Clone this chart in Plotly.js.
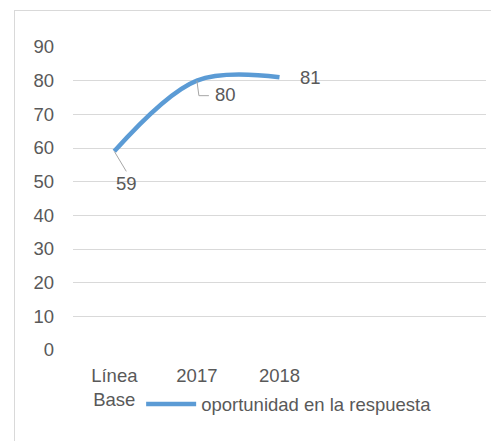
<!DOCTYPE html>
<html><head><meta charset="utf-8">
<script src="https://cdn.plot.ly/plotly-3.0.1.min.js"></script>
<style>
html,body{margin:0;padding:0;background:#fff;}
#frame{position:absolute;left:14px;top:10px;width:490px;height:440px;border-left:1px solid #d9d9d9;border-top:1px solid #d9d9d9;}
#chart{position:absolute;left:0;top:0;width:491px;height:441px;}
</style></head>
<body>
<div id="frame"></div>
<div id="chart"></div>
<script>
const categories = ['Línea<br>Base', '2017', '2018'];
const values = [59, 80, 81];
const seriesName = 'oportunidad en la respuesta';
const yTicks = [0, 10, 20, 30, 40, 50, 60, 70, 80, 90];

const xIdx = categories.map((c, i) => i);
const font = {family: 'Liberation Sans, Arial, sans-serif', size: 18.5, color: '#595959'};

const trace = {
  x: xIdx, y: values, name: seriesName, type: 'scatter', mode: 'lines',
  line: {color: '#5B9BD5', width: 4.5, shape: 'spline', smoothing: 1},
  hoverinfo: 'skip'
};

const annotations = [
  {x: 0, y: values[0], xref: 'x', yref: 'y', text: String(values[0]), showarrow: true,
   arrowhead: 0, arrowwidth: 1, arrowcolor: '#a6a6a6', ax: 12, ay: 20, standoff: 0, startstandoff: 0,
   font: font, xanchor: 'center', yanchor: 'top'},
  {x: 1, y: values[1], xref: 'x', yref: 'y', text: String(values[1]), showarrow: false,
   font: font, xanchor: 'left', yanchor: 'middle', xshift: 16, yshift: -14},
  {x: 2, y: values[2], xref: 'x', yref: 'y', text: String(values[2]), showarrow: false,
   font: font, xanchor: 'left', yanchor: 'middle', xshift: 18, yshift: 0}
];

const shapes = [
  {type: 'path', xref: 'x', yref: 'y', xsizemode: 'pixel', ysizemode: 'pixel',
   xanchor: 1, yanchor: values[1], path: 'M0,0 L2,-15 L12,-15',
   line: {color: '#a6a6a6', width: 1}}
];

const layout = {
  width: 491, height: 441,
  margin: {l: 73, r: 5, t: 47, b: 91},
  paper_bgcolor: 'rgba(0,0,0,0)', plot_bgcolor: 'rgba(0,0,0,0)',
  font: font,
  showlegend: true,
  legend: {orientation: 'h', x: 0.165, xanchor: 'left', y: -0.18, yanchor: 'middle',
    font: font, bgcolor: 'rgba(0,0,0,0)', itemwidth: 50, tracegroupgap: 0},
  xaxis: {range: [-0.5, 4.5], tickvals: xIdx, ticktext: categories, showgrid: false,
    zeroline: false, showline: false, ticks: '', tickfont: font, ticklabelstandoff: 12, fixedrange: true},
  yaxis: {range: [0, 90], tickvals: yTicks, showgrid: true, gridcolor: '#d9d9d9', gridwidth: 1,
    zeroline: false, showline: false, ticks: '', tickfont: font, ticklabelstandoff: 18, fixedrange: true},
  annotations: annotations,
  shapes: shapes
};

Plotly.newPlot('chart', [trace], layout, {displayModeBar: false, staticPlot: true});
</script>
</body></html>
